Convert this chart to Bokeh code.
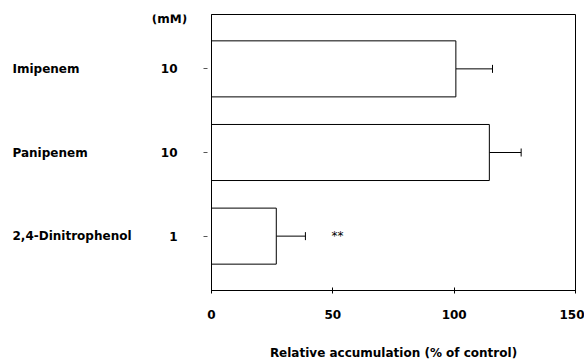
from bokeh.plotting import figure
from bokeh.layouts import row
from bokeh.models import ColumnDataSource, Range1d, FixedTicker, Whisker, TeeHead
from bokeh.core.properties import value
from bokeh.embed import file_html
from bokeh.resources import INLINE

categories = ["Imipenem", "Panipenem", "2,4-Dinitrophenol"]
concentrations = ["10", "10", "1"]
unit_label = "(mM)"
values = [100.7, 114.5, 26.7]
errors = [15.1, 13.1, 12.0]
significance = ["", "", "**"]
x_ticks = [0, 50, 100, 150]

FONT = "DejaVu Sans"

n = len(categories)
ypos = [n - i for i in range(n)]          # top to bottom: 3, 2, 1
upper = [v + e for v, e in zip(values, errors)]
src = ColumnDataSource(dict(y=ypos, cat=categories, conc=concentrations, value=values,
                            upper=upper, sig=significance))

y_range = Range1d(0.35, n + 0.65)
TOP, BOTTOM = 14, 71
LEFT_W = 195

# ---- left panel carrying the row labels ----
lp = figure(width=LEFT_W, height=362, output_backend="svg", toolbar_location=None,
            x_range=Range1d(0, LEFT_W), y_range=y_range,
            x_axis_type=None, y_axis_type=None,
            min_border_left=0, min_border_right=0,
            min_border_top=TOP, min_border_bottom=BOTTOM)
lp.grid.visible = False
lp.outline_line_color = None
lp.border_fill_color = "white"
txt = dict(text_font=value(FONT), text_font_style="bold", text_font_size="12px",
           text_color="black", text_baseline="middle")
lp.text(x=12, y="y", text="cat", source=src, text_align="left", **txt)
lp.text(x=177, y="y", text="conc", source=src, text_align="right", **txt)
unit_src = ColumnDataSource(dict(y=[ypos[0]], t=[unit_label]))
lp.text(x=169, y="y", text="t", source=unit_src, text_align="center",
        y_offset=-50, **txt)

# ---- main plot ----
p = figure(width=584 - LEFT_W, height=362, output_backend="svg", toolbar_location=None,
           y_range=y_range, x_range=Range1d(0, 150),
           min_border_left=211 - LEFT_W, min_border_right=9,
           min_border_top=TOP, min_border_bottom=BOTTOM)

p.hbar(y="y", left=0, right="value", height=0.67, source=src,
       fill_color="white", line_color="black", line_width=1)

wh = Whisker(base="y", lower="value", upper="upper", dimension="width", source=src,
             line_color="black", line_width=1, lower_head=None,
             upper_head=TeeHead(size=8, line_color="black", line_width=1))
p.add_layout(wh)

p.text(x="upper", y="y", text="sig", source=src, x_offset=26, text_align="left",
       text_baseline="middle", text_font=value(FONT), text_font_size="12px",
       text_color="black")

p.xaxis.ticker = FixedTicker(ticks=x_ticks)
p.xaxis.minor_tick_line_color = None
p.xaxis.major_tick_in = 3
p.xaxis.major_tick_out = 3
p.xaxis.major_label_standoff = 16
p.xaxis.major_label_text_font = FONT
p.xaxis.major_label_text_font_style = "bold"
p.xaxis.major_label_text_font_size = "12px"
p.xaxis.major_label_text_color = "black"
p.xaxis.axis_label = "Relative accumulation (% of control)"
p.xaxis.axis_label_text_font = FONT
p.xaxis.axis_label_text_font_style = "bold"
p.xaxis.axis_label_text_font_size = "12px"
p.xaxis.axis_label_text_color = "black"
p.xaxis.axis_label_standoff = 24
p.xaxis.axis_line_color = "black"
p.xaxis.major_tick_line_color = "black"

p.yaxis.ticker = FixedTicker(ticks=ypos)
p.yaxis.major_label_overrides = {y: "" for y in ypos}
p.yaxis.major_label_standoff = 0
p.yaxis.minor_tick_line_color = None
p.yaxis.major_tick_in = -4
p.yaxis.major_tick_out = 8
p.yaxis.major_tick_line_color = "#555555"
p.yaxis.axis_line_color = "black"

p.grid.visible = False
p.outline_line_color = "black"
p.background_fill_color = "white"
p.border_fill_color = "white"

layout = row(lp, p, spacing=0)
open("out.html", "w").write(file_html(layout, INLINE))
